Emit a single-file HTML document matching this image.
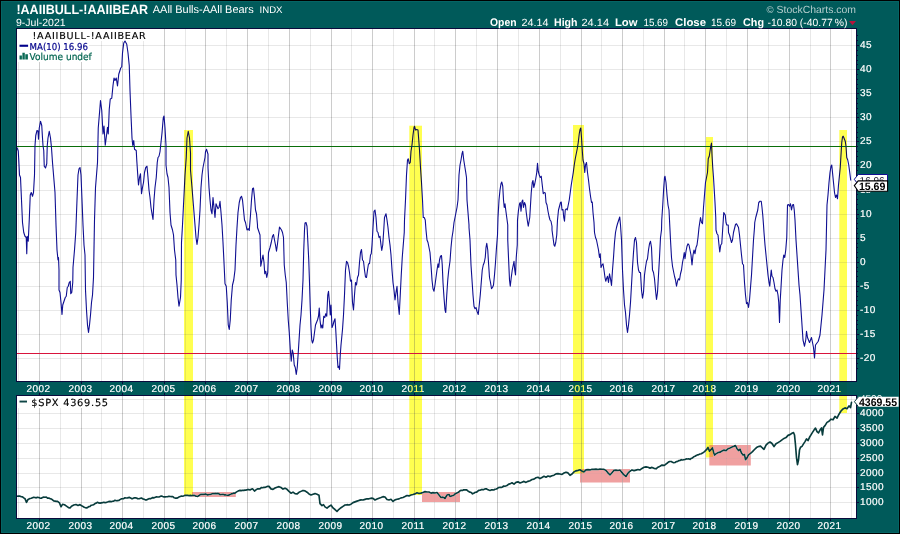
<!DOCTYPE html>
<html lang="en"><head><meta charset="utf-8"><title>!AAIIBULL-!AAIIBEAR</title>
<style>html,body{margin:0;padding:0;background:#005A5A;}body{width:900px;height:534px;overflow:hidden;}svg{display:block;}.a{font-family:"Liberation Sans",Arial,sans-serif;}.v{font-family:"DejaVu Sans",Verdana,sans-serif;}text{text-rendering:geometricPrecision;}</style></head><body>
<svg width="900" height="534" viewBox="0 0 900 534">
<rect x="0" y="0" width="900" height="534" fill="#005A5A"/>
<path d="M0 0H900V534H0ZM1 1V533H899V1Z" fill="#000" fill-rule="evenodd" shape-rendering="crispEdges"/>
<path d="M1 1H899V533H1ZM2 2V532H898V2Z" fill="#056464" fill-rule="evenodd" shape-rendering="crispEdges"/>
<rect x="17" y="29" width="839" height="352" fill="#fff"/>
<rect x="17" y="396" width="839" height="122" fill="#fff"/>
<g shape-rendering="crispEdges" stroke-width="1"><line x1="18.5" y1="29" x2="18.5" y2="381" stroke="rgba(0,0,0,0.09)"/><line x1="39.5" y1="29" x2="39.5" y2="381" stroke="rgba(0,0,0,0.2)"/><line x1="60.5" y1="29" x2="60.5" y2="381" stroke="rgba(0,0,0,0.09)"/><line x1="81.5" y1="29" x2="81.5" y2="381" stroke="rgba(0,0,0,0.2)"/><line x1="101.5" y1="29" x2="101.5" y2="381" stroke="rgba(0,0,0,0.09)"/><line x1="122.5" y1="29" x2="122.5" y2="381" stroke="rgba(0,0,0,0.2)"/><line x1="143.5" y1="29" x2="143.5" y2="381" stroke="rgba(0,0,0,0.09)"/><line x1="164.5" y1="29" x2="164.5" y2="381" stroke="rgba(0,0,0,0.2)"/><line x1="185.5" y1="29" x2="185.5" y2="381" stroke="rgba(0,0,0,0.09)"/><line x1="205.5" y1="29" x2="205.5" y2="381" stroke="rgba(0,0,0,0.2)"/><line x1="226.5" y1="29" x2="226.5" y2="381" stroke="rgba(0,0,0,0.09)"/><line x1="247.5" y1="29" x2="247.5" y2="381" stroke="rgba(0,0,0,0.2)"/><line x1="268.5" y1="29" x2="268.5" y2="381" stroke="rgba(0,0,0,0.09)"/><line x1="289.5" y1="29" x2="289.5" y2="381" stroke="rgba(0,0,0,0.2)"/><line x1="310.5" y1="29" x2="310.5" y2="381" stroke="rgba(0,0,0,0.09)"/><line x1="331.5" y1="29" x2="331.5" y2="381" stroke="rgba(0,0,0,0.2)"/><line x1="351.5" y1="29" x2="351.5" y2="381" stroke="rgba(0,0,0,0.09)"/><line x1="372.5" y1="29" x2="372.5" y2="381" stroke="rgba(0,0,0,0.2)"/><line x1="393.5" y1="29" x2="393.5" y2="381" stroke="rgba(0,0,0,0.09)"/><line x1="414.5" y1="29" x2="414.5" y2="381" stroke="rgba(0,0,0,0.2)"/><line x1="434.5" y1="29" x2="434.5" y2="381" stroke="rgba(0,0,0,0.09)"/><line x1="455.5" y1="29" x2="455.5" y2="381" stroke="rgba(0,0,0,0.2)"/><line x1="476.5" y1="29" x2="476.5" y2="381" stroke="rgba(0,0,0,0.09)"/><line x1="497.5" y1="29" x2="497.5" y2="381" stroke="rgba(0,0,0,0.2)"/><line x1="518.5" y1="29" x2="518.5" y2="381" stroke="rgba(0,0,0,0.09)"/><line x1="539.5" y1="29" x2="539.5" y2="381" stroke="rgba(0,0,0,0.2)"/><line x1="560.5" y1="29" x2="560.5" y2="381" stroke="rgba(0,0,0,0.09)"/><line x1="581.5" y1="29" x2="581.5" y2="381" stroke="rgba(0,0,0,0.2)"/><line x1="601.5" y1="29" x2="601.5" y2="381" stroke="rgba(0,0,0,0.09)"/><line x1="622.5" y1="29" x2="622.5" y2="381" stroke="rgba(0,0,0,0.2)"/><line x1="643.5" y1="29" x2="643.5" y2="381" stroke="rgba(0,0,0,0.09)"/><line x1="664.5" y1="29" x2="664.5" y2="381" stroke="rgba(0,0,0,0.2)"/><line x1="684.5" y1="29" x2="684.5" y2="381" stroke="rgba(0,0,0,0.09)"/><line x1="705.5" y1="29" x2="705.5" y2="381" stroke="rgba(0,0,0,0.2)"/><line x1="726.5" y1="29" x2="726.5" y2="381" stroke="rgba(0,0,0,0.09)"/><line x1="747.5" y1="29" x2="747.5" y2="381" stroke="rgba(0,0,0,0.2)"/><line x1="768.5" y1="29" x2="768.5" y2="381" stroke="rgba(0,0,0,0.09)"/><line x1="789.5" y1="29" x2="789.5" y2="381" stroke="rgba(0,0,0,0.2)"/><line x1="810.5" y1="29" x2="810.5" y2="381" stroke="rgba(0,0,0,0.09)"/><line x1="830.5" y1="29" x2="830.5" y2="381" stroke="rgba(0,0,0,0.2)"/><line x1="851.5" y1="29" x2="851.5" y2="381" stroke="rgba(0,0,0,0.09)"/><line x1="18.5" y1="396" x2="18.5" y2="518" stroke="rgba(0,0,0,0.09)"/><line x1="39.5" y1="396" x2="39.5" y2="518" stroke="rgba(0,0,0,0.2)"/><line x1="60.5" y1="396" x2="60.5" y2="518" stroke="rgba(0,0,0,0.09)"/><line x1="81.5" y1="396" x2="81.5" y2="518" stroke="rgba(0,0,0,0.2)"/><line x1="101.5" y1="396" x2="101.5" y2="518" stroke="rgba(0,0,0,0.09)"/><line x1="122.5" y1="396" x2="122.5" y2="518" stroke="rgba(0,0,0,0.2)"/><line x1="143.5" y1="396" x2="143.5" y2="518" stroke="rgba(0,0,0,0.09)"/><line x1="164.5" y1="396" x2="164.5" y2="518" stroke="rgba(0,0,0,0.2)"/><line x1="185.5" y1="396" x2="185.5" y2="518" stroke="rgba(0,0,0,0.09)"/><line x1="205.5" y1="396" x2="205.5" y2="518" stroke="rgba(0,0,0,0.2)"/><line x1="226.5" y1="396" x2="226.5" y2="518" stroke="rgba(0,0,0,0.09)"/><line x1="247.5" y1="396" x2="247.5" y2="518" stroke="rgba(0,0,0,0.2)"/><line x1="268.5" y1="396" x2="268.5" y2="518" stroke="rgba(0,0,0,0.09)"/><line x1="289.5" y1="396" x2="289.5" y2="518" stroke="rgba(0,0,0,0.2)"/><line x1="310.5" y1="396" x2="310.5" y2="518" stroke="rgba(0,0,0,0.09)"/><line x1="331.5" y1="396" x2="331.5" y2="518" stroke="rgba(0,0,0,0.2)"/><line x1="351.5" y1="396" x2="351.5" y2="518" stroke="rgba(0,0,0,0.09)"/><line x1="372.5" y1="396" x2="372.5" y2="518" stroke="rgba(0,0,0,0.2)"/><line x1="393.5" y1="396" x2="393.5" y2="518" stroke="rgba(0,0,0,0.09)"/><line x1="414.5" y1="396" x2="414.5" y2="518" stroke="rgba(0,0,0,0.2)"/><line x1="434.5" y1="396" x2="434.5" y2="518" stroke="rgba(0,0,0,0.09)"/><line x1="455.5" y1="396" x2="455.5" y2="518" stroke="rgba(0,0,0,0.2)"/><line x1="476.5" y1="396" x2="476.5" y2="518" stroke="rgba(0,0,0,0.09)"/><line x1="497.5" y1="396" x2="497.5" y2="518" stroke="rgba(0,0,0,0.2)"/><line x1="518.5" y1="396" x2="518.5" y2="518" stroke="rgba(0,0,0,0.09)"/><line x1="539.5" y1="396" x2="539.5" y2="518" stroke="rgba(0,0,0,0.2)"/><line x1="560.5" y1="396" x2="560.5" y2="518" stroke="rgba(0,0,0,0.09)"/><line x1="581.5" y1="396" x2="581.5" y2="518" stroke="rgba(0,0,0,0.2)"/><line x1="601.5" y1="396" x2="601.5" y2="518" stroke="rgba(0,0,0,0.09)"/><line x1="622.5" y1="396" x2="622.5" y2="518" stroke="rgba(0,0,0,0.2)"/><line x1="643.5" y1="396" x2="643.5" y2="518" stroke="rgba(0,0,0,0.09)"/><line x1="664.5" y1="396" x2="664.5" y2="518" stroke="rgba(0,0,0,0.2)"/><line x1="684.5" y1="396" x2="684.5" y2="518" stroke="rgba(0,0,0,0.09)"/><line x1="705.5" y1="396" x2="705.5" y2="518" stroke="rgba(0,0,0,0.2)"/><line x1="726.5" y1="396" x2="726.5" y2="518" stroke="rgba(0,0,0,0.09)"/><line x1="747.5" y1="396" x2="747.5" y2="518" stroke="rgba(0,0,0,0.2)"/><line x1="768.5" y1="396" x2="768.5" y2="518" stroke="rgba(0,0,0,0.09)"/><line x1="789.5" y1="396" x2="789.5" y2="518" stroke="rgba(0,0,0,0.2)"/><line x1="810.5" y1="396" x2="810.5" y2="518" stroke="rgba(0,0,0,0.09)"/><line x1="830.5" y1="396" x2="830.5" y2="518" stroke="rgba(0,0,0,0.2)"/><line x1="851.5" y1="396" x2="851.5" y2="518" stroke="rgba(0,0,0,0.09)"/><line x1="17" y1="358.5" x2="856" y2="358.5" stroke="rgba(0,0,0,0.09)"/><line x1="17" y1="334.5" x2="856" y2="334.5" stroke="rgba(0,0,0,0.09)"/><line x1="17" y1="310.5" x2="856" y2="310.5" stroke="rgba(0,0,0,0.09)"/><line x1="17" y1="286.5" x2="856" y2="286.5" stroke="rgba(0,0,0,0.09)"/><line x1="17" y1="262.5" x2="856" y2="262.5" stroke="rgba(0,0,0,0.09)"/><line x1="17" y1="238.5" x2="856" y2="238.5" stroke="rgba(0,0,0,0.09)"/><line x1="17" y1="214.5" x2="856" y2="214.5" stroke="rgba(0,0,0,0.09)"/><line x1="17" y1="190.5" x2="856" y2="190.5" stroke="rgba(0,0,0,0.09)"/><line x1="17" y1="165.5" x2="856" y2="165.5" stroke="rgba(0,0,0,0.09)"/><line x1="17" y1="141.5" x2="856" y2="141.5" stroke="rgba(0,0,0,0.09)"/><line x1="17" y1="117.5" x2="856" y2="117.5" stroke="rgba(0,0,0,0.09)"/><line x1="17" y1="93.5" x2="856" y2="93.5" stroke="rgba(0,0,0,0.09)"/><line x1="17" y1="69.5" x2="856" y2="69.5" stroke="rgba(0,0,0,0.09)"/><line x1="17" y1="45.5" x2="856" y2="45.5" stroke="rgba(0,0,0,0.09)"/><line x1="17" y1="502.5" x2="856" y2="502.5" stroke="rgba(0,0,0,0.09)"/><line x1="17" y1="487.5" x2="856" y2="487.5" stroke="rgba(0,0,0,0.09)"/><line x1="17" y1="473.5" x2="856" y2="473.5" stroke="rgba(0,0,0,0.09)"/><line x1="17" y1="458.5" x2="856" y2="458.5" stroke="rgba(0,0,0,0.09)"/><line x1="17" y1="443.5" x2="856" y2="443.5" stroke="rgba(0,0,0,0.09)"/><line x1="17" y1="428.5" x2="856" y2="428.5" stroke="rgba(0,0,0,0.09)"/><line x1="17" y1="413.5" x2="856" y2="413.5" stroke="rgba(0,0,0,0.09)"/><line x1="17" y1="399.5" x2="856" y2="399.5" stroke="rgba(0,0,0,0.09)"/></g>
<path d="M17 29h131v12h-131zM17 41h72v11h-72zM17 52h76v10h-76zM17 396h93v12h-93z" fill="#fff"/>
<g shape-rendering="crispEdges"><rect x="17" y="146" width="839" height="1.3" fill="#0a6e0a"/><rect x="17" y="353" width="839" height="1.3" fill="#d8143c"/></g>
<path d="M17 147.5 L18.25 151 L18.75 160 L19.5 175 L20.5 177.5 L21.5 200 L22.5 222.5 L23.75 232.5 L25 236.25 L26.25 237.5 L26.75 253.75 L27.25 236.25 L28.25 241.25 L29.25 220 L30.25 195 L31.25 192.5 L32.5 196.25 L33.5 192.5 L34.5 175 L35 145.5 L35.75 135.5 L37 130.5 L38 131 L38.5 139.25 L39.25 128 L40.5 121.25 L41.75 125.5 L42.5 138 L43 145.5 L43.75 150.5 L44.25 166.25 L45.5 168 L46.75 163.75 L47.25 145.5 L48 138 L49.25 131.25 L50.5 138 L51.5 148 L52.5 162.5 L53.75 177.5 L55 192.5 L56 225 L57 250 L58 260 L58.5 257.5 L59 270 L59 290 L60 292.5 L61 302.5 L62 314.5 L62.75 305 L64 301.25 L65.25 297.5 L66.25 296.25 L67.25 287.5 L68.25 286.25 L69.25 282.5 L70.25 281.25 L70.75 293.75 L71.75 292.5 L72.75 282.5 L73 267.5 L74.5 250 L75.75 232.5 L77 200 L78 175 L79 168.75 L80 167.5 L81 175 L82 200 L83 225 L84 245 L85 255 L85.5 290 L86.5 310 L87.5 325 L88.5 332.5 L89.5 325 L90.5 315 L91.5 302.5 L92.5 295 L93.5 277.5 L94.5 220 L95.5 187.5 L96.5 175 L97.5 162.5 L98.25 128 L99.5 113 L100.5 100.5 L101.75 110.5 L103 134 L104 126 L105.25 145.25 L106.5 135.5 L107.5 127.25 L108.25 134 L109.25 109.25 L110.25 99 L111.75 98.25 L113 85.5 L114 78 L115 80.5 L116.25 78 L117.5 86 L118.75 74.25 L120.75 68 L121.75 66.75 L122.5 53 L123.75 43 L125 41 L126.75 44.25 L128 53 L129.25 65.5 L130 90.5 L131 115.5 L132 138 L132.75 145.5 L133.75 140.5 L134.5 149.25 L136.25 150.5 L136.75 160 L137.75 175 L138.5 185 L139.5 177.5 L140.5 173.75 L141.5 193.75 L142.5 187.5 L143.5 182.5 L144.5 172.5 L145.75 167.5 L147 166.25 L148 177.5 L149 190 L150 197.5 L151 207.5 L152 213.75 L153 219.5 L154 200 L155 187.5 L156.25 177.5 L157.25 162.5 L158 157.5 L159 156.25 L160 151.75 L162 133 L163.25 118 L164 116 L165 128 L166 145.5 L166 165 L167 173.75 L168 177.5 L169 187.5 L170 212.5 L171 225 L172.5 230 L173.5 235 L174.5 250 L175.75 260 L176 275 L177 285 L178 297.5 L179 306.25 L180.5 297.5 L181.25 280 L181.5 242.5 L182.5 225 L183.75 200 L185 175 L186.25 157.5 L187 138 L188.25 131.25 L189.5 138 L190.5 153 L190.5 170 L192 187.5 L193 200 L194 212.5 L195 225 L196 237.5 L197 244.5 L198 237.5 L199 225 L200 210 L201 187.5 L202 175 L203 167.5 L204 162.5 L205 157.5 L205.5 151.75 L206.5 149.25 L208 154.25 L208 167.5 L209 187.5 L210 200 L211 210 L212 213.75 L213 197.5 L214 207.5 L215 217.5 L216 203.75 L217 206.25 L218 208.75 L219 207.5 L220 201.25 L221 212.5 L222 225 L223 242.5 L224 262.5 L225 283.75 L226.25 286.25 L227.25 302.5 L228.25 325 L229.25 329.5 L230.25 320 L231.25 300 L232.5 285 L233.75 280 L235 270 L236 245 L237 227.5 L238 212.5 L239.25 202.5 L240.5 197.5 L241.5 196.25 L242.5 200 L243.5 210 L244.5 220 L245.5 222.5 L247 230 L248.25 228.75 L249.25 230.5 L250.5 215 L251.5 200 L252.5 188.75 L253.5 188 L254.5 197.5 L255.5 210 L256.5 213.75 L257.5 225 L257.5 227.5 L258.75 231.25 L260 235 L260.75 266.25 L262 260 L263 255 L264 262.5 L264.75 273.75 L265.75 271.25 L266.75 277.5 L267.75 272.5 L268.5 252.5 L270 247.5 L271.25 242.5 L272.5 236.25 L273.5 234.5 L274.5 240 L275.5 245 L276.5 251.25 L277.5 243.75 L278.5 235 L279.5 227 L281.5 230 L282.5 232.5 L283.5 237.5 L284.25 265 L285.25 275 L286.25 282.5 L287.25 302.5 L288.25 320 L289.25 332.5 L290.5 352.5 L291.25 361.25 L292.25 350 L293.25 353.75 L294.25 365 L295.25 367.5 L296.25 374.5 L297.25 367.5 L298.25 352.5 L300 325 L301 315 L302 300 L303 280 L303.75 250 L304.5 230 L305 223 L306 222.5 L307 226.25 L307.25 230 L308 245 L308.75 260 L309.5 282.5 L310.25 307.5 L311 327.5 L311.75 340 L312.5 343 L313.5 340 L314.5 332.5 L315.5 325 L316.5 322.5 L317.5 320 L318.5 316.25 L319.25 308 L320 320 L321 328 L322 325 L322.75 328 L323.75 316.25 L324.75 317.5 L325.75 313.75 L326.75 316.25 L327.75 295 L328.5 291.25 L329.5 302.5 L330.25 315 L331 305 L332 327.5 L333 325 L334 321.25 L335 318.75 L335.75 330 L337.25 357.5 L338 367.5 L338.75 366.25 L339.5 369.5 L340.25 355 L341 345 L342.5 329.5 L343.5 315 L344.5 295 L345.5 270 L346.5 261.25 L347.5 262.5 L348.5 266.25 L349.5 272.5 L350.5 281.25 L351.5 280 L352.5 302.5 L353.5 310 L354.5 295 L355.5 282.5 L356.5 285 L357.5 277.5 L358.5 275 L359.5 262.5 L360.5 252.5 L361.5 249.5 L362.5 260 L363.5 261.25 L364.5 270 L365.5 277 L366.5 277.5 L367.5 270 L368.5 263.75 L369.5 263.75 L370.5 255 L371.25 253.75 L372 245 L373 227.5 L374 211.25 L375 210 L376 217.5 L377 231.25 L378 232.5 L379 237.5 L380 236.25 L381 245 L381.75 250.5 L382.75 245 L383.75 230 L384.5 217.5 L386 213.75 L387 220 L388 227.5 L389 237.5 L390 245 L391 255 L392 270 L393 282.5 L394 290 L395 300 L396 292.5 L397 286.25 L398 302.5 L399.25 314.5 L400.25 295 L401.25 275 L402.25 257.5 L403.25 245 L404.25 232.5 L404.5 220 L405.5 200 L406.5 175 L407.5 160 L408.25 158.75 L409.25 163.75 L410.25 162.5 L411 151.25 L412 145 L413 135 L414 127.5 L414.5 126.25 L415.5 130 L416.75 129.5 L418 130 L418.75 140 L419.5 150 L420.5 167.5 L421.5 182.5 L422.5 200 L423.25 217.5 L424.25 217.5 L425.25 220 L426 230 L427 240 L428 242.5 L429 247.5 L430 252.5 L431 265 L432 280 L433 288.75 L434 291.25 L435 285 L436 277.5 L437 270 L438 263.75 L438.75 267.5 L439.5 260 L440.5 256.25 L441.5 255.5 L442.25 265 L443 282.5 L444 297.5 L445 310 L445.75 312.5 L446.75 295 L447.75 280 L448.75 270 L450 261.25 L450 261.25 L451 247.5 L452 237.5 L453 231.25 L454 222.5 L455.5 215 L457 207.5 L458 200 L459 175 L460 165 L461 160 L462 153.75 L462.75 151.25 L463.75 160 L464.75 166.25 L465.75 172.5 L466.5 177.5 L467 200 L468 212.5 L469 225 L469 227.5 L470 240 L471 265 L472 280 L473 295 L474 306.25 L475 308.75 L476 307.5 L477 311.25 L478.25 314.5 L479.25 305 L480.25 295 L481.25 282.5 L482.25 270 L483.25 265 L484.25 262.5 L485.25 257.5 L486 247.5 L486.75 243.25 L487.75 250 L488.5 262.5 L489.5 277.5 L490.5 282.5 L491.5 288.75 L492.5 287.5 L493.5 285 L494.5 275 L495.5 262.5 L496.5 247.5 L497.5 235 L498 217.5 L499 200 L500 190 L501 183.75 L501.75 182 L502.75 186.25 L503.5 200 L504.25 207.5 L505 203.75 L505.75 210 L506.75 217.5 L507.75 225 L507.75 240 L508.5 257.5 L509.5 280 L510.25 286.25 L511.25 277.5 L512.25 270 L513.25 265 L514 261.25 L514.75 270 L515.5 275 L516.25 257.5 L517.25 245 L517.5 220 L518.5 210 L519.5 203.75 L520.25 202.5 L521 211.25 L522 201.25 L522.75 200 L523.5 207.5 L524.5 202.5 L525.5 205 L526.25 212.5 L527.25 220 L528.25 226.25 L529.75 217.5 L530.5 205 L531.25 192.5 L532.25 182.5 L533 180.5 L533.75 187.5 L534.75 183.75 L535.75 178.75 L536.75 172.5 L537.5 163.25 L538.25 171.25 L539.25 175 L540.25 177.5 L541.25 176.25 L542.25 185 L543.25 193.75 L544.25 192.5 L545.25 193 L546 202.5 L547 205 L548 211.25 L549 216.25 L550 220 L551 221.25 L552 226.25 L552 230 L553 237.5 L554 245 L554.75 246.25 L555.75 242.5 L556.75 235 L557.5 220 L558.5 210 L559.5 206.25 L560.5 202.5 L561.25 202 L562 210 L563 209.5 L563.75 217.5 L564.5 221.25 L565.25 210 L566.25 208.75 L567.25 210 L568.25 205 L569.25 200 L570.25 192.5 L571.25 185 L572.25 178.75 L573.25 172.5 L574.25 165 L575.25 158.75 L576.25 153.75 L577.25 148.75 L578.25 142.5 L579.25 133.75 L580 129.5 L580.75 128 L581.5 137.5 L582.25 150 L583 160 L584 163.75 L584.75 172.5 L585.5 165 L586.5 162.5 L587.5 172.5 L588.5 180 L589.5 188.75 L590.5 196.25 L591.5 202.5 L592.25 202 L593 212.5 L594 222.5 L594.5 232.5 L595.5 237.5 L596.5 240 L597.5 245 L598.5 250 L599.5 257.5 L600.25 253.75 L601 267.5 L602 265 L603 263.75 L604 270 L605 277.5 L605.75 281.25 L606.5 278.75 L607.5 276.25 L608.5 282.5 L609.5 273.75 L610.5 278.75 L611.5 285.5 L612.5 270 L613.5 257.5 L614.5 242.5 L615.5 232.5 L616.5 227.5 L617.5 223.75 L618.75 220 L619.75 217 L620.5 225 L621.5 240 L622.5 270 L623.5 290 L624.5 305 L625.5 312.5 L626.5 325 L627.5 332.5 L628.5 325 L629.5 315 L630.5 302.5 L631.5 285 L632.5 267.5 L633.5 252.5 L634.5 240 L635.5 237.5 L636.5 242.5 L637.5 262.5 L638.5 270 L639.5 272.5 L640.5 272.5 L641.5 290 L642.5 298.25 L643.5 292.5 L644.5 275 L645.5 267.5 L646.5 261.25 L647.5 258.75 L648.5 250 L649.5 243.75 L650.5 241.25 L651.5 247.5 L652.5 270 L653.5 272.5 L654.5 278.75 L655.5 290 L656.5 299.5 L657.5 292.5 L658.5 275 L659.5 257.5 L660.5 237.5 L661.5 230 L661.75 220 L662.75 205 L663.75 187.5 L664.5 177.5 L665 176.25 L666 182.5 L667 195 L668 205 L669 210 L670.5 240 L671.5 257.5 L672.5 266.25 L673.5 271.25 L674.5 276.25 L675.5 280 L676.5 286.25 L677.5 281.25 L678.5 278.75 L679.5 280 L680.5 273.75 L681.5 270 L682.5 262.5 L683.5 257.5 L684.25 252.5 L685 258.75 L686 251.25 L687 246.25 L688 243.75 L689 245 L690 250 L691 255 L692 265 L693 255 L694 250 L695 253.75 L696 247.5 L697 245 L698 237.5 L699 227.5 L700.5 217.5 L701.5 222.5 L702.5 223.75 L703.5 207.5 L704.5 195 L705.5 182.5 L706.5 177.5 L707.5 172.5 L708.25 158.75 L709.25 156.25 L710 151.25 L710.75 146.25 L711.5 143 L712 155 L712.75 167.5 L713.5 177.5 L714.25 190 L715 202.5 L715.75 217.5 L716 230 L717 233.75 L718 235 L719 245 L719.75 252 L720.75 245 L721.75 243.75 L723.75 212.5 L725.25 215 L726 222.5 L726.75 225 L728.25 225 L728.5 232.5 L729.5 235 L730.5 238.75 L731.5 242.5 L732.5 240 L733.5 232.5 L735.5 224.5 L736.5 223.75 L738.5 227.5 L739.5 235 L740.5 245 L741.5 255 L742.5 263.75 L743.5 265 L744.5 282.5 L745.5 295 L746.5 303.75 L747.5 302.5 L748.5 307.5 L749.5 300 L750.5 287.5 L751.5 275 L752.5 257.5 L753.5 240 L754.5 227.5 L754.75 222.5 L755.75 217.5 L756.75 213.75 L757.75 210 L758.75 202.5 L760 201.25 L761.25 201.25 L762 207.5 L762.75 215 L763.5 225 L764 232.5 L765 245 L766 255 L767 265 L768 275 L769 282.5 L769.75 286.25 L770.5 277.5 L771.25 270 L772 276.25 L773 277.5 L774 282.5 L775 288.75 L776 291.25 L777 290 L778 295 L778.75 302.5 L779.5 322.5 L780.25 300 L781 287.5 L782 270 L783 260 L783.75 255 L784.75 257.5 L785.75 250 L786.75 237.5 L787.5 205 L788.5 204.5 L789.5 206.25 L790.5 203.75 L791.5 210 L792.5 205 L793.5 204.5 L794.25 210 L795 220 L796 240 L797 255 L798 270 L799 285 L800 295 L801 310 L802 325 L803 340 L804.5 346.25 L805.75 340 L806.5 331.25 L807.5 337.5 L809.5 342.5 L811.5 337.5 L813.5 347.5 L814.5 358 L815.5 345 L818.25 341.25 L820 335 L821 325 L822 315 L823 302.5 L824 290 L825 270 L826 250 L827 205 L828 195 L829 182.5 L830 172.5 L831 166.25 L831.75 165 L832.5 172.5 L833.5 182.5 L834.5 192.5 L835.5 197.5 L836.5 195 L837.5 198.75 L838.5 185 L839.5 175 L840.25 167.5 L841 155 L841.75 142.5 L842.5 137 L843.25 136.25 L844.25 138.75 L845.25 141.25 L846 146.25 L846.75 157.5 L847.75 160 L848.75 165 L849.75 172.5 L850.75 180.5" fill="none" stroke="#0f0f91" stroke-width="1.1" stroke-linejoin="round"/>
<path d="M17 496.25 L18.5 496.06 L20 496.1 L21.25 496.79 L22.5 496.81 L23.75 497.91 L25 498.69 L26.5 502.31 L28 499.5 L30 498.55 L31.25 498.3 L32.5 497.81 L33.75 497.3 L35 497.47 L36.25 497.86 L37.5 497.33 L38.75 497.45 L40 498.06 L41.25 498.24 L42.5 497.53 L43.75 497.14 L45 497.21 L46.25 497 L47.5 498.16 L48.75 498.14 L50 498.59 L51.25 498.95 L52.5 499.92 L53.75 500.97 L55 501.11 L56.25 501.34 L57.5 501.31 L59.5 502.94 L61 506.77 L62.5 504.31 L64.5 504.81 L66.5 506.12 L68.5 507.58 L70 507.97 L71.5 506.17 L73.75 505.04 L76 504.48 L78 505.41 L80 504.63 L81.25 505.59 L82.5 506.14 L83.75 506.96 L85 507.51 L86.25 507.91 L87.5 507.6 L88.75 506.64 L90 506.46 L91.25 505.2 L92.5 504.96 L93.75 504.66 L95 503.6 L96.25 503.11 L97.5 502.3 L98.75 502.94 L100 503.12 L101.25 502.83 L102.5 502.67 L103.75 502.3 L105 502.59 L106.25 502.35 L107.5 502.04 L108.75 501.58 L110 501.4 L111.25 501.74 L112.5 501.24 L113.75 501.06 L115 500.31 L116.25 500.72 L117.5 500.56 L118.75 500.54 L120 499.64 L121.25 498.89 L122.5 498.7 L123.75 498.56 L125 497.79 L126.25 497.96 L127.5 497.85 L129.5 497.33 L131.5 498.56 L132.75 498.67 L134 497.84 L135.25 497.72 L136.5 497.95 L137.75 498.78 L139 498.57 L140.25 498.32 L141.5 498.02 L142.75 498.92 L144 499.14 L145.25 499.9 L146.5 499.9 L147.75 499.28 L149 498.69 L150.25 498.8 L151.5 498.2 L152.75 497.62 L154 497.86 L155.25 497.21 L156.5 496.88 L157.75 496.98 L159 497.04 L160.25 496.36 L161.5 496.03 L162.75 496.54 L164 496.94 L165.25 496.82 L166.5 496.7 L167.75 496.58 L169 496.26 L170.25 496.5 L171.5 496.58 L172.75 496.51 L174 497.68 L175.25 498.06 L176.5 498.16 L177.75 497.83 L179 496.95 L180.25 496.51 L181.5 496.08 L182.75 496.27 L184 495.81 L185.25 495.27 L186.5 495.37 L187.75 495.25 L189 495.68 L190.25 495.38 L191.5 495.78 L192.75 495.37 L194 495.32 L195.25 495.85 L196.5 496.29 L197.75 496.41 L199 495.55 L200.25 494.61 L201.5 494.39 L202.75 494.33 L204 494.44 L205.25 493.96 L206.5 494.4 L207.75 494.92 L209 494.49 L210.25 494.36 L211.5 494.07 L212.75 493.56 L214 493.68 L215.25 493.37 L216.5 493.64 L217.75 493.38 L219 493.79 L220.25 494.75 L221.5 494.51 L223 494.36 L224.5 495.02 L225 494.79 L226.25 495.03 L227.5 495.21 L228.75 495.15 L230 494.59 L231.25 493.86 L232.5 493.69 L233.75 493.01 L235 493.12 L236.25 492.16 L237.5 491.37 L238.75 490.69 L240 490.38 L241.25 490.59 L242.5 490.21 L243.75 490.39 L245 490.13 L246.25 490.1 L247.5 489.61 L248.75 489.45 L250 490.01 L251.25 489.34 L252.5 488.79 L254.5 491.04 L256.5 489.4 L257.75 488.86 L259 488.83 L260.25 488.63 L261.5 487.48 L262.75 487.73 L264 487.21 L265.25 487.38 L266.5 486.69 L267.75 486.32 L269 486.38 L271 488.87 L273 489.37 L275 488.05 L277 487.18 L279 486.65 L281 487.49 L283 489.07 L285 488.13 L287 489.32 L289 491.32 L291 493.18 L293 492.12 L295 493.61 L297 493.99 L299 492.36 L301 491.38 L303 490.43 L305 490.88 L307 492.21 L309 493.95 L311 494.96 L313 494.2 L315 493.6 L317 494.35 L319 495.34 L320 503.6 L322 505.68 L323.5 504.63 L325 506.84 L327 508.14 L329 506.46 L331 505.07 L333 507.93 L335 509.52 L337 511.34 L339 509.29 L341 507.71 L343 506.32 L345 505.01 L347 504.69 L349 504.97 L351 504.16 L353 502.64 L355 501.87 L357 501.14 L359 500.41 L361 499.89 L363 500.04 L365 499.39 L367 498.71 L369 498.84 L371 498.18 L373 498.44 L375 499.98 L377 499.04 L379 498.18 L381 497.47 L383 496.68 L385 497 L387 499.51 L389 500.01 L391 499.29 L393 501.47 L395 499.86 L397 499.28 L399 498.88 L401 497.86 L403 497.49 L405 496.6 L407 495.52 L409 495.92 L411 495.01 L413 494.52 L415 493.88 L417 492.83 L419 493.53 L421 493.14 L423 492.4 L425 491.62 L427 492 L429 492.03 L431 493.11 L433 492.68 L435 492.98 L437 492.55 L439 495 L441 497.51 L443 497.08 L445 498.48 L447 495.01 L449 494.49 L450 496.44 L451.25 496.09 L452.5 495.67 L453.75 495.24 L455 493.89 L456.25 493.32 L457.5 492.7 L458.75 492.12 L460 490.84 L461.25 490.33 L462.5 490.47 L463.75 489.78 L465 489.89 L466.25 489.78 L467.5 490.57 L468.75 491.56 L470 492.17 L471.25 492.49 L472.5 493.85 L473.75 493.3 L475 492.34 L476.25 492.3 L477.5 491.46 L478.75 490.32 L480 490.2 L481.25 489.64 L482.5 489.49 L483.75 489.66 L485 488.9 L486.25 488.75 L487.5 489.47 L488.75 490.02 L490 490.43 L491.25 489.92 L492.5 489.92 L493.75 489.99 L495 489.29 L496.25 489.06 L497.5 488.47 L498.75 487.47 L500 487.43 L501.25 487.39 L502.5 487.01 L503.75 486.02 L505 486.21 L506.25 485.82 L507.5 485.21 L508.75 484.07 L510 483.9 L512 482.8 L514 484.12 L516 482.4 L518 481.84 L520 482.97 L522 482.18 L524 481.39 L526 482.39 L528 481.35 L530 480.68 L532 479.53 L534 479.09 L536 477.82 L538 477.31 L540 478.58 L542 477.47 L544 476.31 L546 477.19 L548 476.06 L550 476.63 L552 475.82 L554 475.16 L556 473.81 L558 473.66 L560 473.98 L562 474.43 L564 473.02 L566 472.19 L568 472.9 L570 475.34 L572 474.01 L574 471.88 L576 470.83 L578 470.35 L580 469.8 L582 471.12 L584 471.92 L586 469.91 L588 469.61 L590 469.91 L592 469.25 L594 469.36 L596 469.18 L598 469.54 L600 469.14 L602 469.29 L604 469.35 L606 470.52 L608 472.86 L610 474.99 L612 472.69 L614 470.33 L616 470.14 L618 470.47 L620 470 L622 472.65 L624 474.95 L626 476.5 L628 473.08 L630 471.21 L632 469.93 L634 470.65 L636 470.09 L638 469.56 L640 469.96 L642 468.43 L644 467.3 L646 466.84 L648 467.31 L650 468.11 L652 467.39 L654 468.35 L656 468.82 L658 467.15 L660 466.16 L662 465.08 L664 465.4 L665 464.89 L666.25 463.77 L667.5 462.98 L668.75 461.87 L670 461.48 L671.25 461.49 L672.5 462.2 L673.75 462.77 L675 462.52 L676.25 461.59 L677.5 461.45 L678.75 460.67 L680 460.44 L681.25 459.7 L682.5 459.95 L683.75 459.72 L685 459.5 L686.25 458.92 L687.5 459 L688.75 458.71 L690 459.4 L691.25 458.3 L692.5 457.96 L693.75 456.75 L695 456.29 L696.25 455.53 L697.5 454.88 L698.75 454.59 L700 454.01 L701.25 453.78 L702.5 453.07 L704.5 451.6 L706.5 449.67 L708 447.45 L709.5 451.17 L711 449.71 L712.5 447.85 L713.5 452.1 L714.5 455.06 L716 453.8 L718 452.65 L720 452.17 L722 451.06 L724 450.1 L726 450.64 L728 448.84 L730 448.01 L732 447 L734 446.15 L735.5 445.63 L737 448.64 L738.5 450.54 L740 449.17 L741.5 453.08 L743 455.09 L744.5 454.38 L745.5 459.79 L747 457.84 L748.5 454.94 L750.5 453.33 L752.5 451.65 L754.5 449.53 L756.5 447.56 L758.5 446.56 L760.5 446.08 L762.5 448 L764 449.28 L766 445.13 L768 443.11 L770 442 L772 443.52 L774 446.57 L776 443.81 L778 442.6 L780 441.39 L782 439.81 L784 438.4 L786 437.6 L788 435.37 L790 434.61 L792 433.21 L793.5 432.5 L794.5 434.95 L795.5 444.99 L796.5 457.58 L797.5 464.62 L798.5 460.05 L799.5 450.06 L800.5 447.31 L802 446.34 L803.5 443.89 L805 441.61 L806.5 438.91 L808 440.53 L809.5 437.29 L811 434.81 L812.5 432.4 L814 430.08 L815.5 428.08 L817 431.58 L818.5 432.91 L820 430.01 L821.5 427.98 L822.5 434.99 L823.5 427.33 L825 425.67 L827 422.37 L829 421.21 L831 419.19 L833 419.79 L835 416.48 L837 418.14 L839 414.21 L841 410.98 L843 408.9 L845 407.87 L847 408.7 L849 405.87 L850.5 407.54 L851.5 402.34" fill="none" stroke="#083c3c" stroke-width="1.65" stroke-linejoin="round" stroke-linecap="round"/>
<path d="M16.5 28.5H856.5V381.5H16.5Z" fill="none" stroke="#0a0a3c" stroke-width="1" shape-rendering="crispEdges"/>
<path d="M16.5 395.5H856.5V518.5H16.5Z" fill="none" stroke="#0a0a3c" stroke-width="1" shape-rendering="crispEdges"/>
<g stroke="#0a0a3c" stroke-width="1" shape-rendering="crispEdges"><line x1="856" y1="358.5" x2="859" y2="358.5"/><line x1="856" y1="334.5" x2="859" y2="334.5"/><line x1="856" y1="310.5" x2="859" y2="310.5"/><line x1="856" y1="286.5" x2="859" y2="286.5"/><line x1="856" y1="262.5" x2="859" y2="262.5"/><line x1="856" y1="238.5" x2="859" y2="238.5"/><line x1="856" y1="214.5" x2="859" y2="214.5"/><line x1="856" y1="190.5" x2="859" y2="190.5"/><line x1="856" y1="165.5" x2="859" y2="165.5"/><line x1="856" y1="141.5" x2="859" y2="141.5"/><line x1="856" y1="117.5" x2="859" y2="117.5"/><line x1="856" y1="93.5" x2="859" y2="93.5"/><line x1="856" y1="69.5" x2="859" y2="69.5"/><line x1="856" y1="45.5" x2="859" y2="45.5"/><line x1="856" y1="368.5" x2="858" y2="368.5"/><line x1="856" y1="363.5" x2="858" y2="363.5"/><line x1="856" y1="353.5" x2="858" y2="353.5"/><line x1="856" y1="348.5" x2="858" y2="348.5"/><line x1="856" y1="344.5" x2="858" y2="344.5"/><line x1="856" y1="339.5" x2="858" y2="339.5"/><line x1="856" y1="329.5" x2="858" y2="329.5"/><line x1="856" y1="324.5" x2="858" y2="324.5"/><line x1="856" y1="320.5" x2="858" y2="320.5"/><line x1="856" y1="315.5" x2="858" y2="315.5"/><line x1="856" y1="305.5" x2="858" y2="305.5"/><line x1="856" y1="300.5" x2="858" y2="300.5"/><line x1="856" y1="296.5" x2="858" y2="296.5"/><line x1="856" y1="291.5" x2="858" y2="291.5"/><line x1="856" y1="281.5" x2="858" y2="281.5"/><line x1="856" y1="276.5" x2="858" y2="276.5"/><line x1="856" y1="271.5" x2="858" y2="271.5"/><line x1="856" y1="267.5" x2="858" y2="267.5"/><line x1="856" y1="257.5" x2="858" y2="257.5"/><line x1="856" y1="252.5" x2="858" y2="252.5"/><line x1="856" y1="247.5" x2="858" y2="247.5"/><line x1="856" y1="243.5" x2="858" y2="243.5"/><line x1="856" y1="233.5" x2="858" y2="233.5"/><line x1="856" y1="228.5" x2="858" y2="228.5"/><line x1="856" y1="223.5" x2="858" y2="223.5"/><line x1="856" y1="218.5" x2="858" y2="218.5"/><line x1="856" y1="209.5" x2="858" y2="209.5"/><line x1="856" y1="204.5" x2="858" y2="204.5"/><line x1="856" y1="199.5" x2="858" y2="199.5"/><line x1="856" y1="194.5" x2="858" y2="194.5"/><line x1="856" y1="185.5" x2="858" y2="185.5"/><line x1="856" y1="180.5" x2="858" y2="180.5"/><line x1="856" y1="175.5" x2="858" y2="175.5"/><line x1="856" y1="170.5" x2="858" y2="170.5"/><line x1="856" y1="161.5" x2="858" y2="161.5"/><line x1="856" y1="156.5" x2="858" y2="156.5"/><line x1="856" y1="151.5" x2="858" y2="151.5"/><line x1="856" y1="146.5" x2="858" y2="146.5"/><line x1="856" y1="137.5" x2="858" y2="137.5"/><line x1="856" y1="132.5" x2="858" y2="132.5"/><line x1="856" y1="127.5" x2="858" y2="127.5"/><line x1="856" y1="122.5" x2="858" y2="122.5"/><line x1="856" y1="113.5" x2="858" y2="113.5"/><line x1="856" y1="108.5" x2="858" y2="108.5"/><line x1="856" y1="103.5" x2="858" y2="103.5"/><line x1="856" y1="98.5" x2="858" y2="98.5"/><line x1="856" y1="88.5" x2="858" y2="88.5"/><line x1="856" y1="84.5" x2="858" y2="84.5"/><line x1="856" y1="79.5" x2="858" y2="79.5"/><line x1="856" y1="74.5" x2="858" y2="74.5"/><line x1="856" y1="64.5" x2="858" y2="64.5"/><line x1="856" y1="60.5" x2="858" y2="60.5"/><line x1="856" y1="55.5" x2="858" y2="55.5"/><line x1="856" y1="50.5" x2="858" y2="50.5"/><line x1="856" y1="40.5" x2="858" y2="40.5"/><line x1="856" y1="35.5" x2="858" y2="35.5"/><line x1="856" y1="502.5" x2="859" y2="502.5"/><line x1="856" y1="487.5" x2="859" y2="487.5"/><line x1="856" y1="473.5" x2="859" y2="473.5"/><line x1="856" y1="458.5" x2="859" y2="458.5"/><line x1="856" y1="443.5" x2="859" y2="443.5"/><line x1="856" y1="428.5" x2="859" y2="428.5"/><line x1="856" y1="413.5" x2="859" y2="413.5"/><line x1="39.5" y1="381" x2="39.5" y2="384"/><line x1="39.5" y1="393" x2="39.5" y2="396"/><line x1="39.5" y1="518" x2="39.5" y2="521"/><line x1="81.5" y1="381" x2="81.5" y2="384"/><line x1="81.5" y1="393" x2="81.5" y2="396"/><line x1="81.5" y1="518" x2="81.5" y2="521"/><line x1="122.5" y1="381" x2="122.5" y2="384"/><line x1="122.5" y1="393" x2="122.5" y2="396"/><line x1="122.5" y1="518" x2="122.5" y2="521"/><line x1="164.5" y1="381" x2="164.5" y2="384"/><line x1="164.5" y1="393" x2="164.5" y2="396"/><line x1="164.5" y1="518" x2="164.5" y2="521"/><line x1="205.5" y1="381" x2="205.5" y2="384"/><line x1="205.5" y1="393" x2="205.5" y2="396"/><line x1="205.5" y1="518" x2="205.5" y2="521"/><line x1="247.5" y1="381" x2="247.5" y2="384"/><line x1="247.5" y1="393" x2="247.5" y2="396"/><line x1="247.5" y1="518" x2="247.5" y2="521"/><line x1="289.5" y1="381" x2="289.5" y2="384"/><line x1="289.5" y1="393" x2="289.5" y2="396"/><line x1="289.5" y1="518" x2="289.5" y2="521"/><line x1="331.5" y1="381" x2="331.5" y2="384"/><line x1="331.5" y1="393" x2="331.5" y2="396"/><line x1="331.5" y1="518" x2="331.5" y2="521"/><line x1="372.5" y1="381" x2="372.5" y2="384"/><line x1="372.5" y1="393" x2="372.5" y2="396"/><line x1="372.5" y1="518" x2="372.5" y2="521"/><line x1="414.5" y1="381" x2="414.5" y2="384"/><line x1="414.5" y1="393" x2="414.5" y2="396"/><line x1="414.5" y1="518" x2="414.5" y2="521"/><line x1="455.5" y1="381" x2="455.5" y2="384"/><line x1="455.5" y1="393" x2="455.5" y2="396"/><line x1="455.5" y1="518" x2="455.5" y2="521"/><line x1="497.5" y1="381" x2="497.5" y2="384"/><line x1="497.5" y1="393" x2="497.5" y2="396"/><line x1="497.5" y1="518" x2="497.5" y2="521"/><line x1="539.5" y1="381" x2="539.5" y2="384"/><line x1="539.5" y1="393" x2="539.5" y2="396"/><line x1="539.5" y1="518" x2="539.5" y2="521"/><line x1="581.5" y1="381" x2="581.5" y2="384"/><line x1="581.5" y1="393" x2="581.5" y2="396"/><line x1="581.5" y1="518" x2="581.5" y2="521"/><line x1="622.5" y1="381" x2="622.5" y2="384"/><line x1="622.5" y1="393" x2="622.5" y2="396"/><line x1="622.5" y1="518" x2="622.5" y2="521"/><line x1="664.5" y1="381" x2="664.5" y2="384"/><line x1="664.5" y1="393" x2="664.5" y2="396"/><line x1="664.5" y1="518" x2="664.5" y2="521"/><line x1="705.5" y1="381" x2="705.5" y2="384"/><line x1="705.5" y1="393" x2="705.5" y2="396"/><line x1="705.5" y1="518" x2="705.5" y2="521"/><line x1="747.5" y1="381" x2="747.5" y2="384"/><line x1="747.5" y1="393" x2="747.5" y2="396"/><line x1="747.5" y1="518" x2="747.5" y2="521"/><line x1="789.5" y1="381" x2="789.5" y2="384"/><line x1="789.5" y1="393" x2="789.5" y2="396"/><line x1="789.5" y1="518" x2="789.5" y2="521"/><line x1="830.5" y1="381" x2="830.5" y2="384"/><line x1="830.5" y1="393" x2="830.5" y2="396"/><line x1="830.5" y1="518" x2="830.5" y2="521"/></g>
<g class="a" fill="#fff">
<text x="16.4" y="13.7" font-size="13.3" font-weight="bold" textLength="131.6" lengthAdjust="spacingAndGlyphs">!AAIIBULL-!AAIIBEAR</text>
<text x="152.8" y="13.4" font-size="10.95">AAll Bulls-AAll Bears</text>
<text x="259.6" y="13.3" font-size="9.6">INDX</text>
<text x="16" y="26" font-size="10.5">9-Jul-2021</text>
<text x="766.6" y="12.6" font-size="9.6" fill="#b4cccc">©</text><text x="776.6" y="12.7" font-size="10.4" fill="#b4cccc" textLength="79.4" lengthAdjust="spacingAndGlyphs">StockCharts.com</text>
<text x="490" y="25.9" font-size="11" font-weight="bold" textLength="26.5" lengthAdjust="spacingAndGlyphs">Open</text>
<text x="521.5" y="25.9" font-size="10.4" textLength="27" lengthAdjust="spacingAndGlyphs">24.14</text>
<text x="554" y="25.9" font-size="11" font-weight="bold" textLength="23.5" lengthAdjust="spacingAndGlyphs">High</text>
<text x="581.5" y="25.9" font-size="10.4" textLength="27.5" lengthAdjust="spacingAndGlyphs">24.14</text>
<text x="615" y="25.9" font-size="11" font-weight="bold" textLength="22.5" lengthAdjust="spacingAndGlyphs">Low</text>
<text x="643.5" y="25.9" font-size="10.4" textLength="24.5" lengthAdjust="spacingAndGlyphs">15.69</text>
<text x="675" y="25.9" font-size="11" font-weight="bold" textLength="31" lengthAdjust="spacingAndGlyphs">Close</text>
<text x="711" y="25.9" font-size="10.4" textLength="25" lengthAdjust="spacingAndGlyphs">15.69</text>
<text x="743" y="25.9" font-size="11" font-weight="bold" textLength="21" lengthAdjust="spacingAndGlyphs">Chg</text>
<text x="767.5" y="25.9" font-size="10.4" textLength="80" lengthAdjust="spacingAndGlyphs">-10.80 (-40.77&#8201;%)</text>
</g>
<path d="M849 21h7l-3.5 4.2z" fill="#b4143c"/>
<g class="a" fill="#fff" font-size="10" letter-spacing="0.44" stroke="#fff" stroke-width="0.2">
<text x="860" y="361.1">-20</text>
<text x="860" y="337.1">-15</text>
<text x="860" y="313.1">-10</text>
<text x="860" y="289.1">-5</text>
<text x="860" y="265.1">0</text>
<text x="860" y="241.1">5</text>
<text x="860" y="217.1">10</text>
<text x="860" y="168.1">20</text>
<text x="860" y="144.1">25</text>
<text x="860" y="120.1">30</text>
<text x="860" y="96.1">35</text>
<text x="860" y="72.1">40</text>
<text x="860" y="48.1">45</text>
<text x="860" y="505.1">1000</text>
<text x="860" y="490.1">1500</text>
<text x="860" y="476.1">2000</text>
<text x="860" y="461.1">2500</text>
<text x="860" y="446.1">3000</text>
<text x="860" y="431.1">3500</text>
<text x="860" y="416.1">4000</text>
<text x="26.4" y="392">2002</text>
<text x="26.4" y="529">2002</text>
<text x="68.4" y="392">2003</text>
<text x="68.4" y="529">2003</text>
<text x="109.4" y="392">2004</text>
<text x="109.4" y="529">2004</text>
<text x="151.4" y="392">2005</text>
<text x="151.4" y="529">2005</text>
<text x="192.4" y="392">2006</text>
<text x="192.4" y="529">2006</text>
<text x="234.4" y="392">2007</text>
<text x="234.4" y="529">2007</text>
<text x="276.4" y="392">2008</text>
<text x="276.4" y="529">2008</text>
<text x="318.4" y="392">2009</text>
<text x="318.4" y="529">2009</text>
<text x="359.4" y="392">2010</text>
<text x="359.4" y="529">2010</text>
<text x="401.4" y="392">2011</text>
<text x="401.4" y="529">2011</text>
<text x="442.4" y="392">2012</text>
<text x="442.4" y="529">2012</text>
<text x="484.4" y="392">2013</text>
<text x="484.4" y="529">2013</text>
<text x="526.4" y="392">2014</text>
<text x="526.4" y="529">2014</text>
<text x="568.4" y="392">2015</text>
<text x="568.4" y="529">2015</text>
<text x="609.4" y="392">2016</text>
<text x="609.4" y="529">2016</text>
<text x="651.4" y="392">2017</text>
<text x="651.4" y="529">2017</text>
<text x="692.4" y="392">2018</text>
<text x="692.4" y="529">2018</text>
<text x="734.4" y="392">2019</text>
<text x="734.4" y="529">2019</text>
<text x="776.4" y="392">2020</text>
<text x="776.4" y="529">2020</text>
<text x="817.4" y="392">2021</text>
<text x="817.4" y="529">2021</text>
</g>
<g class="v" font-size="9.6">
<text x="32.4" y="39" fill="#000" stroke="#000" stroke-width="0.15" textLength="113.3" lengthAdjust="spacing">!AAIIBULL-!AAIIBEAR</text>
<rect x="19.5" y="44.7" width="8.6" height="2.1" fill="#00008b"/>
<text x="29.6" y="49.6" fill="#00008b" stroke="#00008b" stroke-width="0.2" textLength="58.4" lengthAdjust="spacingAndGlyphs">MA(10) 16.96</text>
<path d="M19.5 59.5V55.5h2.4V59.5zM22.4 59.5V52.8h2.4V59.5zM25.3 59.5V54.2h2.6V59.5z" fill="#0a6a55"/>
<text x="29.6" y="59.7" fill="#006450" stroke="#006450" stroke-width="0.2" textLength="62.2" lengthAdjust="spacingAndGlyphs">Volume undef</text>
<rect x="19.5" y="400.6" width="7.5" height="1.9" fill="#0f4646"/>
<text x="31.3" y="405.6" fill="#000" stroke="#000" stroke-width="0.15" font-size="9.8" textLength="76.8" lengthAdjust="spacing">$SPX 4369.55</text>
</g>
<text class="a" x="860" y="193.1" font-size="10" fill="#fff">15</text>
<path d="M854.3 179.3L858.2 174.5H887.5V184.5H858.2Z" fill="#fff" stroke="#0f0f91" stroke-width="1"/>
<text class="a" x="859.6" y="183.6" font-size="10" fill="#1a1a30">16.96</text>
<path d="M854.3 185.6L858.2 180.9H887.6V191.2H858.2Z" fill="#fff" stroke="#000" stroke-width="1.1"/>
<text class="a" x="858.9" y="190" font-size="10.6" font-weight="bold" fill="#000">15.69</text>
<text class="a" x="860" y="402.1" font-size="10" fill="#fff">4500</text>
<path d="M854.3 401.7L858.2 396.7H898.6V406.8H858.2Z" fill="#fff"/><path d="M858.4 396.9L854.4 401.7L858.4 406.6" fill="none" stroke="#0a3c3c" stroke-width="1"/>
<text class="a" x="859" y="406" font-size="11" font-weight="bold" fill="#000" textLength="38" lengthAdjust="spacingAndGlyphs">4369.55</text>
<g>
<rect x="184" y="130" width="9" height="366" fill="#ffff50" style="mix-blend-mode:darken"/>
<rect x="409.3" y="125.7" width="12.7" height="369.3" fill="#ffff50" style="mix-blend-mode:darken"/>
<rect x="573" y="125" width="11" height="348.6" fill="#ffff50" style="mix-blend-mode:darken"/>
<rect x="706" y="137" width="7" height="320.5" fill="#ffff50" style="mix-blend-mode:darken"/>
<rect x="839.3" y="130" width="7.7" height="283" fill="#ffff50" style="mix-blend-mode:darken"/>
<rect x="192" y="492" width="43.8" height="5" fill="#f0a0a0" style="mix-blend-mode:darken"/>
<rect x="422" y="492" width="38" height="10" fill="#f0a0a0" style="mix-blend-mode:darken"/>
<rect x="580" y="469" width="50" height="13.5" fill="#f0a0a0" style="mix-blend-mode:darken"/>
<rect x="709.3" y="445" width="41.5" height="20.5" fill="#f0a0a0" style="mix-blend-mode:darken"/>
</g>
</svg></body></html>
